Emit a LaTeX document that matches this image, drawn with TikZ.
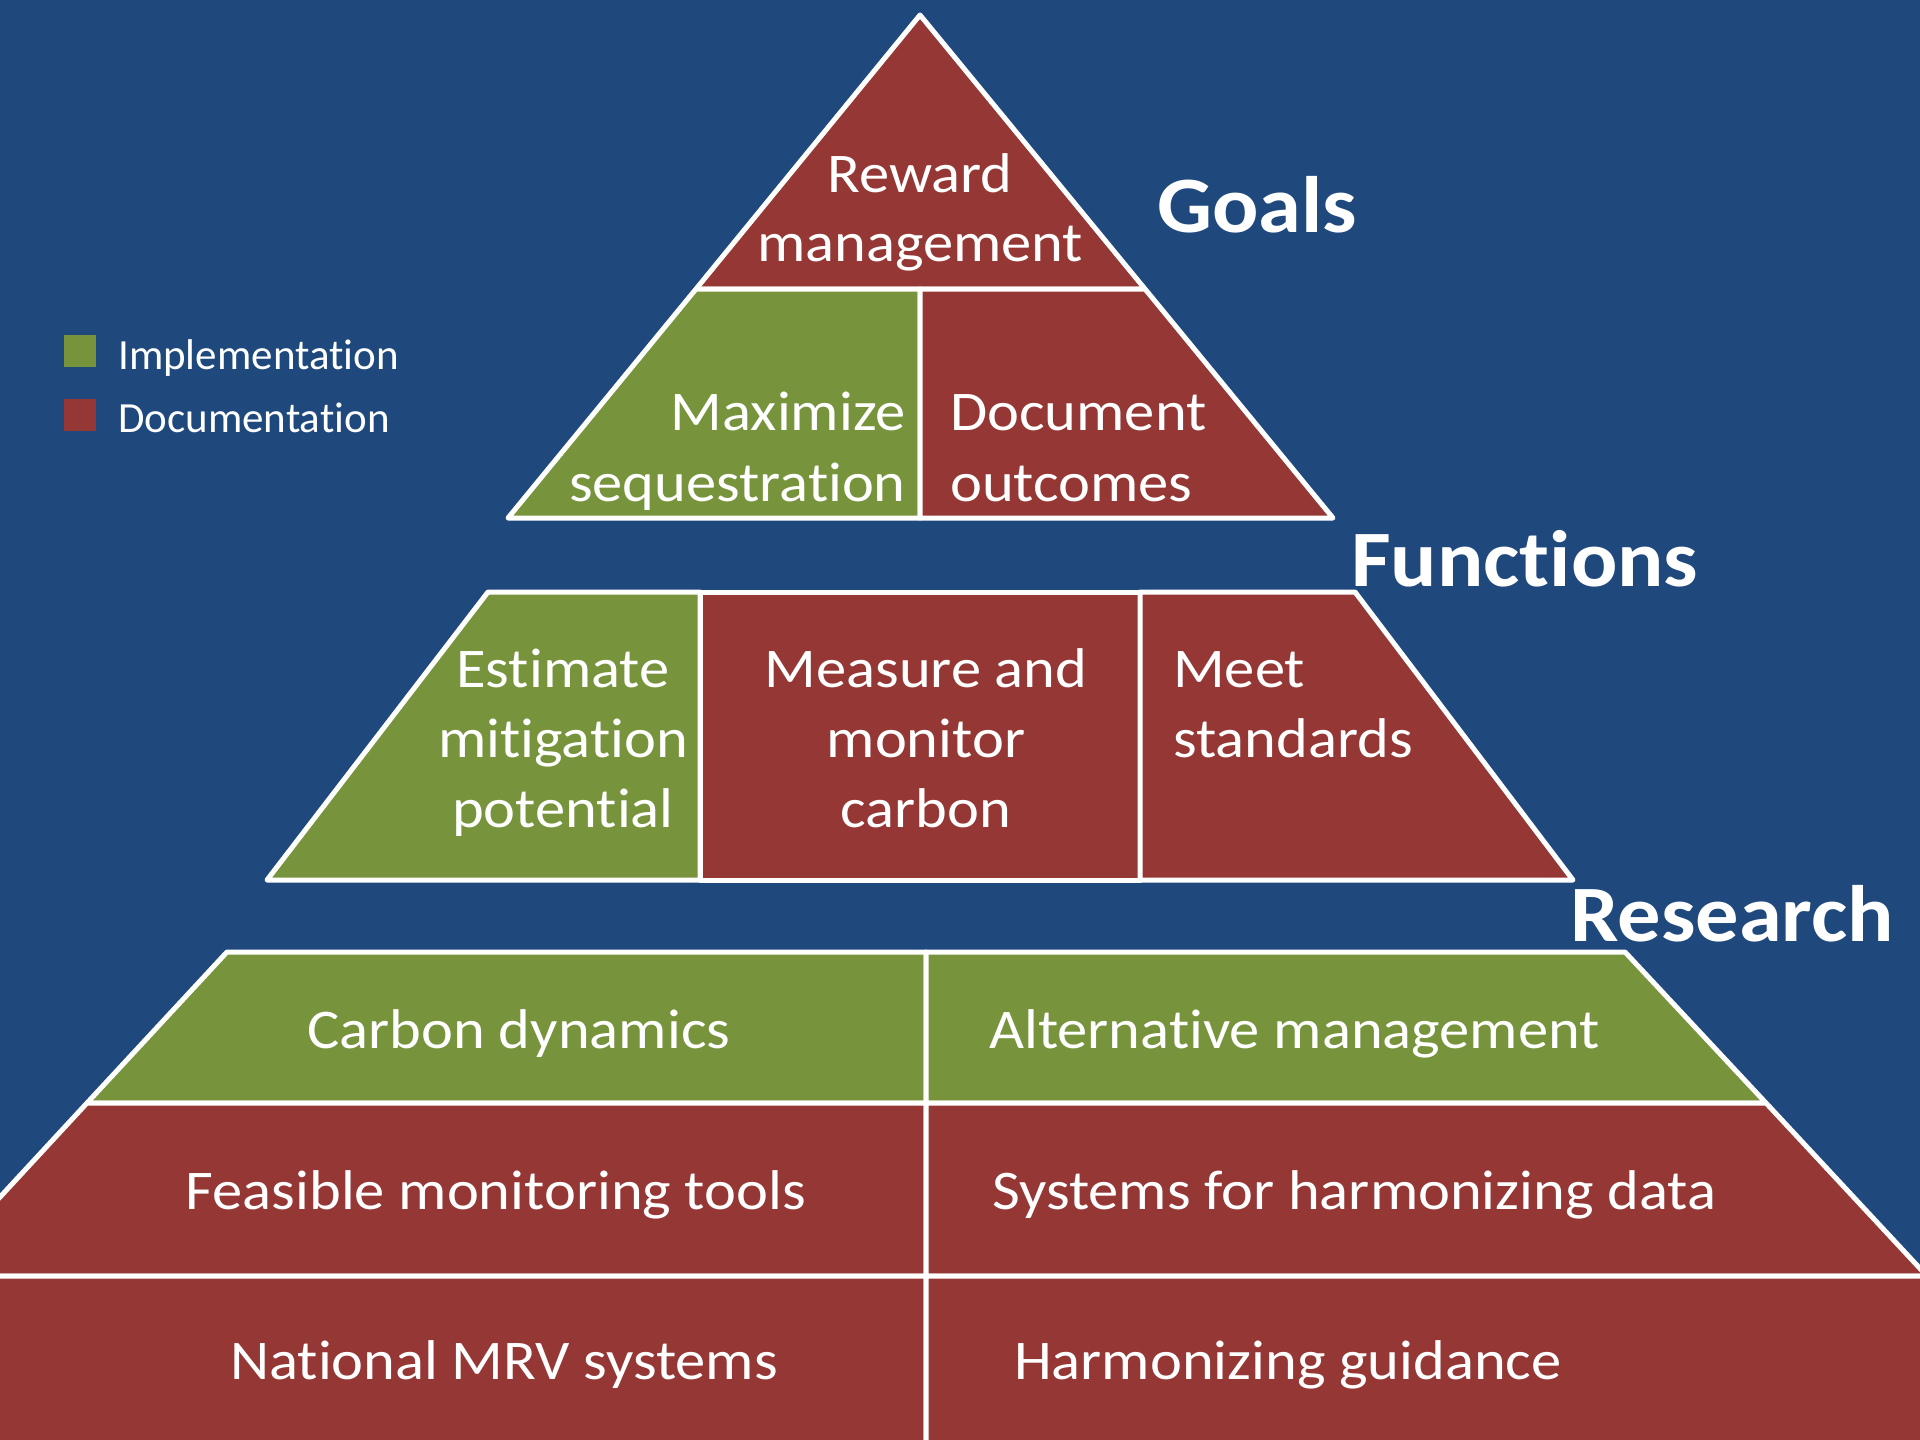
\documentclass[tikz,border=0pt]{standalone}
\usepackage{fontspec}
\newfontfamily\lblfont[FakeStretch=1.08,Ligatures=NoCommon]{Carlito}
\newfontfamily\legfont[Ligatures=NoCommon]{Carlito}
\definecolor{bgblue}{HTML}{1F497D}
\definecolor{docred}{HTML}{953735}
\definecolor{impgreen}{HTML}{77933C}
\begin{document}
\begin{tikzpicture}[x=1pt,y=-1pt,
  cell/.style={draw=white,line width=5pt,line join=round},
  imp/.style={cell,fill=impgreen},
  doc/.style={cell,fill=docred},
  lbl/.style={text=white,inner sep=0pt,font=\lblfont\fontsize{56}{70}\selectfont},
  head/.style={text=white,inner sep=0pt,font=\lblfont\bfseries\fontsize{80}{90}\selectfont},
  leg/.style={text=white,inner sep=0pt,font=\legfont\fontsize{43}{50}\selectfont},
  legbox/.style={minimum width=32pt,minimum height=32pt,inner sep=0pt}]
\fill[bgblue] (0,0) rectangle (1920,1440);
\useasboundingbox (0,0) rectangle (1920,1440);
\begin{scope}
\clip (0,0) rectangle (1920,1440);
% top pyramid
\path[doc] (920,15) -- (1145,289) -- (696,289) -- cycle;
\path[imp] (696,289) -- (920,289) -- (920,518) -- (508,518) -- cycle;
\path[doc] (920,289) -- (1145,289) -- (1333,518) -- (920,518) -- cycle;
% middle trapezoid
\path[imp] (488,592) -- (700,592) -- (700,880) -- (267,880) -- cycle;
\path[doc] (700,592) -- (1140,592) -- (1140,880) -- (700,880) -- cycle;
\path[doc] (1140,592) -- (1355,592) -- (1573,880) -- (1140,880) -- cycle;
% bottom trapezoid
\path[imp] (227,952) -- (926,952) -- (926,1103) -- (87,1103) -- cycle;
\path[imp] (926,952) -- (1625,952) -- (1766,1103) -- (926,1103) -- cycle;
\path[doc] (87,1103) -- (926,1103) -- (926,1276) -- (-73,1276) -- cycle;
\path[doc] (926,1103) -- (1766,1103) -- (1927,1276) -- (926,1276) -- cycle;
\path[doc] (-73,1276) -- (926,1276) -- (926,1460) -- (-92,1460) -- cycle;
\path[doc] (926,1276) -- (1927,1276) -- (1946,1460) -- (926,1460) -- cycle;
\end{scope}
% labels
\node[lbl,anchor=base] (rw1) at (920,192) {Reward};
\node[lbl,anchor=base] (rw2) at (920,261) {management};
\node[lbl,anchor=base east] (mx1) at (906,430) {Maximize};
\node[lbl,anchor=base east] (mx2) at (906,501) {sequestration};
\node[lbl,anchor=base west] (do1) at (950,430) {Document};
\node[lbl,anchor=base west] (do2) at (950,501) {outcomes};
\node[lbl,anchor=base] (es1) at (563,687) {Estimate};
\node[lbl,anchor=base] (es2) at (563,757) {mitigation};
\node[lbl,anchor=base] (es3) at (563,827) {potential};
\node[lbl,anchor=base] (me1) at (926,687) {Measure and};
\node[lbl,anchor=base] (me2) at (926,757) {monitor};
\node[lbl,anchor=base] (me3) at (926,827) {carbon};
\node[lbl,anchor=base west] (mt1) at (1173,687) {Meet};
\node[lbl,anchor=base west] (mt2) at (1173,757) {standards};
\node[lbl,anchor=base] (cd) at (519,1048) {Carbon dynamics};
\node[lbl,anchor=base] (fm) at (496,1209) {Feasible monitoring tools};
\node[lbl,anchor=base] (nm) at (504,1379) {National MRV systems};
\node[lbl,anchor=base west] (am) at (989,1048) {Alternative management};
\node[lbl,anchor=base west] (sh) at (992,1209) {Systems for harmonizing data};
\node[lbl,anchor=base west] (hg) at (1014,1379) {Harmonizing guidance};
% headings
\node[head,anchor=base west] (goals) at (1157,232) {Goals};
\node[head,anchor=base west] (functions) at (1351,586) {Functions};
\node[head,anchor=base west] (research) at (1570,941) {Research};
% legend
\node[legbox,fill=impgreen,anchor=north west] (lgi) at (64,335) {};
\node[legbox,fill=docred,anchor=north west] (lgd) at (64,399) {};
\node[leg,anchor=base west] (lti) at (118,369) {Implementation};
\node[leg,anchor=base west] (ltd) at (118,432) {Documentation};
\end{tikzpicture}
\end{document}
